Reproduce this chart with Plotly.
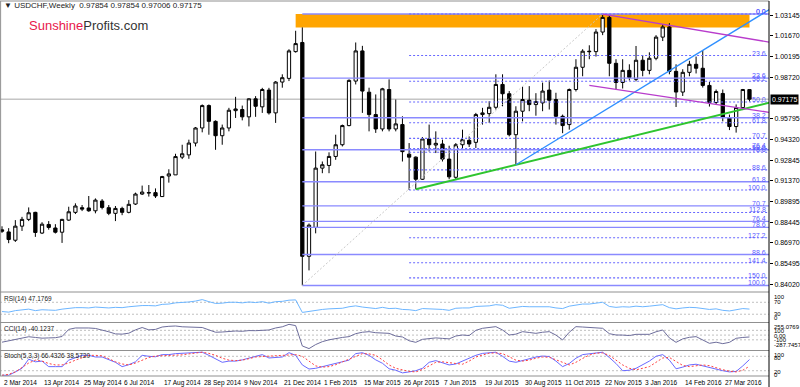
import plotly.graph_objects as go
import pandas as pd

# ---------------- data ----------------
start = pd.Timestamp("2014-03-02")
n_weeks = 113
dates = [start + pd.Timedelta(days=7 * i) for i in range(n_weeks)]

opens = [0.8790, 0.8775, 0.8716, 0.8816, 0.8864, 0.8914, 0.8767, 0.8828, 0.8803, 0.8773,
         0.8859, 0.8914, 0.8947, 0.8945, 0.8925, 0.8994, 0.8947, 0.8907, 0.8942, 0.8914,
         0.8973, 0.9044, 0.9051, 0.9054, 0.9026, 0.9172, 0.9180, 0.9306, 0.9322, 0.9406,
         0.9513, 0.9672, 0.9560, 0.9458, 0.9513, 0.9636, 0.9644, 0.9592, 0.9720, 0.9663,
         0.9782, 0.9620, 0.9839, 0.9865, 1.0055, 1.0120, 0.8602, 0.8807, 0.9228, 0.9247,
         0.9311, 0.9394, 0.9530, 0.9846, 1.0060, 0.9767, 0.9608, 0.9506, 0.9786, 0.9506,
         0.9537, 0.9327, 0.9306, 0.9149, 0.9435, 0.9392, 0.9399, 0.9292, 0.9163, 0.9394,
         0.9425, 0.9411, 0.9608, 0.9615, 0.9660, 0.9822, 0.9756, 0.9465, 0.9632, 0.9710,
         0.9679, 0.9691, 0.9782, 0.9715, 0.9596, 0.9537, 0.9786, 0.9944, 1.0058, 1.0055,
         1.0194, 1.0298, 0.9972, 0.9836, 0.9922, 0.9858, 0.9994, 0.9922, 1.0008, 1.0158,
         1.0230, 0.9915, 0.9768, 0.9908, 0.9965, 0.9937, 0.9815, 0.9694, 0.9758, 0.9587,
         0.9523, 0.9658, 0.97854]
highs = [0.8815, 0.8802, 0.8859, 0.8882, 0.8949, 0.8918, 0.8844, 0.8852, 0.8830, 0.8868,
         0.8954, 0.8978, 0.8966, 0.9030, 0.9013, 0.9008, 0.8966, 0.8959, 0.8954, 0.9001,
         0.9054, 0.9104, 0.9108, 0.9084, 0.9173, 0.9220, 0.9330, 0.9394, 0.9430, 0.9520,
         0.9680, 0.9680, 0.9567, 0.9537, 0.9656, 0.9734, 0.9672, 0.9724, 0.9739, 0.9798,
         0.9798, 0.9846, 0.9894, 1.0072, 1.0203, 1.0227, 0.8835, 0.9346, 0.9275, 0.9340,
         0.9465, 0.9537, 0.9858, 1.0120, 1.0096, 0.9799, 0.9751, 0.9798, 0.9858, 0.9715,
         0.9596, 0.9406, 0.9311, 0.9449, 0.9537, 0.9489, 0.9430, 0.9387, 0.9406, 0.9501,
         0.9453, 0.9620, 0.9656, 0.9703, 0.9894, 0.9894, 0.9775, 0.9667, 0.9810, 0.9810,
         0.9760, 0.9835, 0.9850, 0.9763, 0.9608, 0.9793, 1.0001, 1.0072, 1.0100, 1.0215,
         1.0322, 1.0315, 1.0001, 1.0001, 0.9965, 1.0095, 1.0030, 1.0050, 1.0172, 1.0250,
         1.0257, 0.9965, 0.9930, 0.9990, 1.0020, 1.0065, 0.9840, 0.9786, 0.9786, 0.9608,
         0.9680, 0.9790, 0.97854]
lows = [0.8768, 0.8695, 0.8704, 0.8782, 0.8852, 0.8740, 0.8760, 0.8791, 0.8764, 0.8697,
        0.8854, 0.8902, 0.8923, 0.8918, 0.8907, 0.8935, 0.8894, 0.8852, 0.8894, 0.8907,
        0.8966, 0.9037, 0.9026, 0.9016, 0.9023, 0.9125, 0.9180, 0.9292, 0.9294, 0.9382,
        0.9482, 0.9465, 0.9358, 0.9394, 0.9489, 0.9584, 0.9567, 0.9524, 0.9592, 0.9620,
        0.9608, 0.9549, 0.9799, 0.9846, 1.0048, 0.8395, 0.8502, 0.8765, 0.9192, 0.9192,
        0.9287, 0.9382, 0.9525, 0.9822, 0.9620, 0.9489, 0.9478, 0.9489, 0.9489, 0.9489,
        0.9275, 0.9073, 0.9078, 0.9144, 0.9346, 0.9335, 0.9275, 0.9149, 0.9144, 0.9363,
        0.9378, 0.9371, 0.9537, 0.9549, 0.9644, 0.9667, 0.9453, 0.9252, 0.9560, 0.9632,
        0.9600, 0.9632, 0.9644, 0.9537, 0.9476, 0.9501, 0.9772, 0.9880, 1.0001, 1.0020,
        1.0172, 0.9880, 0.9786, 0.9793, 0.9850, 0.9844, 0.9880, 0.9894, 0.9994, 1.0130,
        0.9894, 0.9662, 0.9740, 0.9880, 0.9900, 0.9800, 0.9665, 0.9679, 0.9560, 0.9498,
        0.9480, 0.9640, 0.97006]
closes = [0.8780, 0.8721, 0.8816, 0.8864, 0.8911, 0.8771, 0.8830, 0.8807, 0.8773, 0.8864,
          0.8918, 0.8959, 0.8937, 0.8925, 0.9001, 0.8949, 0.8907, 0.8942, 0.8914, 0.8971,
          0.9044, 0.9058, 0.9054, 0.9030, 0.9168, 0.9187, 0.9310, 0.9330, 0.9406, 0.9513,
          0.9672, 0.9560, 0.9458, 0.9513, 0.9639, 0.9648, 0.9592, 0.9720, 0.9667, 0.9786,
          0.9620, 0.9839, 0.9870, 1.0060, 1.0112, 0.8602, 0.8823, 0.9228, 0.9252, 0.9311,
          0.9394, 0.9530, 0.9851, 1.0060, 0.9775, 0.9608, 0.9506, 0.9791, 0.9506, 0.9542,
          0.9345, 0.9306, 0.9149, 0.9435, 0.9394, 0.9404, 0.9292, 0.9166, 0.9394, 0.9430,
          0.9399, 0.9608, 0.9620, 0.9660, 0.9822, 0.9756, 0.9465, 0.9632, 0.9715, 0.9679,
          0.9700, 0.9775, 0.9710, 0.9596, 0.9530, 0.9786, 0.9944, 1.0058, 1.0055, 1.0194,
          1.0298, 0.9972, 0.9836, 0.9922, 0.9872, 0.9994, 0.9922, 1.0008, 1.0158, 1.0230,
          0.9915, 0.9768, 0.9908, 0.9965, 0.9937, 0.9815, 0.9694, 0.9772, 0.9587, 0.9523,
          0.9658, 0.9786, 0.97175]

rsi = [39, 37, 42, 45, 47, 42, 45, 44, 43, 47, 50, 52, 52, 51, 54, 53, 51, 53, 52, 55,
       58, 59, 59, 58, 63, 64, 68, 69, 71, 74, 79, 72, 66, 67, 70, 70, 68, 71, 69, 72,
       67, 72, 73, 77, 78, 36, 40, 44, 46, 48, 49, 50, 55, 58, 54, 51, 49, 53, 49, 50,
       46, 45, 42, 49, 48, 49, 46, 43, 50, 51, 51, 56, 57, 58, 62, 60, 50, 54, 56, 55,
       55, 57, 55, 51, 49, 57, 61, 64, 64, 67, 70, 56, 53, 55, 54, 57, 55, 57, 60, 62,
       52, 48, 51, 53, 52, 49, 46, 48, 43, 41, 45, 49, 47.1769]
cci = [-150, -120, -90, -60, -35, -50, -65, -60, -55, -30, 120, 150, 157, 150, 140, 110, 70, 25, 20, 40,
       110, 160, 110, 120, 170, 185, 192, 175, 165, 160, 160, 110, 60, 65, 80, 86, 80, 95, 93, 100,
       108, 150, 175, 227, 200, -230, -285, -200, -139, -100, -68, -50, -33, 30, 60, 72, 50, 45, 37, -20,
       -40, -120, -153, -90, -68, -60, -70, -80, -20, 2, -10, 100, 143, 165, 178, 108, 2, 20, 72, 55,
       37, 60, 72, 0, -103, 60, 178, 170, 160, 157, 143, 30, 2, 0, -10, 16, 10, 16, 70, 108,
       -60, -153, -80, -47, -33, -100, -174, -150, -181, -153, -68, -50, -40.1237]
stoch_k = [1, 1, 15, 30, 68, 57, 60, 37, 37, 37, 64, 75, 84, 84, 77, 77, 65, 55, 37, 45,
           57, 84, 80, 78, 87, 87, 91, 92, 93, 95, 97, 84, 70, 55, 60, 60, 65, 73, 78, 87,
           73, 75, 77, 95, 84, 44, 27, 30, 37, 45, 51, 57, 64, 91, 95, 84, 65, 51, 28, 22,
           11, 15, 20, 30, 55, 62, 52, 44, 48, 60, 72, 84, 92, 96, 97, 80, 60, 55, 62, 72,
           77, 81, 79, 60, 37, 50, 72, 87, 91, 94, 97, 75, 50, 20, 22, 30, 45, 60, 80, 87,
           64, 28, 35, 44, 47, 40, 31, 24, 20, 15, 17, 40, 66.4326]
stoch_d = [1, 5, 15, 35, 52, 64, 60, 50, 44, 44, 52, 64, 75, 84, 84, 82, 70, 57, 48, 44,
           52, 64, 75, 81, 82, 84, 85, 86, 90, 94, 97, 92, 84, 72, 64, 62, 64, 70, 77, 79,
           80, 82, 84, 86, 87, 80, 60, 40, 35, 37, 45, 57, 70, 80, 91, 90, 84, 65, 44, 30,
           24, 17, 15, 25, 40, 55, 57, 55, 50, 47, 60, 77, 86, 93, 94, 91, 78, 64, 60, 64,
           72, 77, 76, 64, 55, 44, 55, 71, 85, 93, 94, 84, 64, 44, 30, 24, 30, 37, 55, 73,
           75, 60, 42, 37, 42, 44, 41, 32, 24, 18, 15, 22, 38.5720]

price_ticks = [1.03145, 1.01670, 1.00195, 0.98720, 0.95795, 0.94320, 0.92845,
               0.91370, 0.89895, 0.88445, 0.86970, 0.85495, 0.84020]
last_price = 0.97175

# Fibonacci retracements (anchor weeks, prices) and levels
fibA_anchor = (45, 0.8395, 90, 1.0322)
fibA_levels = [0.0, 23.6, 38.2, 50.0, 61.8, 70.7, 76.4, 78.6, 88.6, 100.0]
fibB_anchor = (61, 0.9073, 90, 1.0322)
fibB_levels = [0.0, 23.6, 38.2, 50.0, 61.8, 70.7, 76.4, 78.6, 88.6, 100.0, 112.8, 127.2, 141.4, 150.0]

# trend lines: (week0, price0, week1, price1)
green_line = (62, 0.9078, 77, 0.9252)
blue_line = (77, 0.9252, 84, 0.9455)
magenta_top = (90, 1.0322, 100, 1.0242)
magenta_bottom = (88, 0.9815, 112, 0.9645)
resistance_zone = (44, 1.0226, 112, 1.0322)

# ---------------- layout helpers ----------------
W, H = 800, 387
PB = 376  # bottom of plotting area (px)


def dom(top_px, bot_px):
    return [(PB - bot_px) / PB, (PB - top_px) / PB]


def ypaper(px):
    return (PB - px) / PB


def wk(i):
    return start + pd.Timedelta(days=7 * i)


X_LEFT = wk(-0.2985)
X_RIGHT = wk(114.925)
FONT = "Liberation Sans, Arial, sans-serif"
FIBC = "#5a5aff"

fig = go.Figure()

# orange resistance zone
zi0, zp0, zi1, zp1 = resistance_zone
fig.add_shape(type="rect", xref="x", yref="y", x0=wk(zi0), x1=wk(zi1), y0=zp0, y1=zp1,
              fillcolor="#ffa500", line_width=0, layer="below")

# current price line
fig.add_shape(type="line", xref="paper", yref="y", x0=0, x1=1, y0=last_price, y1=last_price,
              line=dict(color="#a8a8a8", width=1), layer="below")


def add_fib(anchor, levels, dash, width, color):
    i0, lo, i1, hi = anchor
    for lv in levels:
        p = hi - lv / 100.0 * (hi - lo)
        fig.add_trace(go.Scatter(x=[wk(i0), wk(118)], y=[p, p], mode="lines",
                                 line=dict(color=color, width=width, dash=dash),
                                 hoverinfo="skip", showlegend=False, xaxis="x", yaxis="y"))
        fig.add_annotation(xref="paper", yref="y", x=1, y=p, text=("%.1f" % lv),
                           xanchor="right", yanchor="bottom", xshift=-1, yshift=-3,
                           showarrow=False, font=dict(family=FONT, size=7, color=FIBC))


add_fib(fibA_anchor, fibA_levels, "solid", 1.4, "#8a8aff")
add_fib(fibB_anchor, fibB_levels, "2px,2px", 1.1, "#6868ff")

# fib A diagonal
fi0, flo, fi1, fhi = fibA_anchor
fig.add_trace(go.Scatter(x=[wk(fi0), wk(fi1)], y=[flo, fhi], mode="lines",
                         line=dict(color="#c8c8c8", width=1, dash="2px,2px"),
                         hoverinfo="skip", showlegend=False))


def add_ray(seg, color, width, end=118):
    i0, p0, i1, p1 = seg
    slope = (p1 - p0) / (i1 - i0)
    fig.add_trace(go.Scatter(x=[wk(i0), wk(end)], y=[p0, p0 + slope * (end - i0)], mode="lines",
                             line=dict(color=color, width=width),
                             hoverinfo="skip", showlegend=False))


# candles
fig.add_trace(go.Candlestick(x=dates, open=opens, high=highs, low=lows, close=closes,
                             increasing=dict(line=dict(color="#000000", width=1), fillcolor="#ffffff"),
                             decreasing=dict(line=dict(color="#000000", width=1), fillcolor="#000000"),
                             whiskerwidth=0, showlegend=False, hoverinfo="skip",
                             xaxis="x", yaxis="y"))

add_ray(green_line, "#2fc52f", 2)
add_ray(blue_line, "#2f8fff", 1.3)
add_ray(magenta_top, "#b83ccc", 1.3)
add_ray(magenta_bottom, "#b83ccc", 1.3)

# indicators
fig.add_trace(go.Scatter(x=dates, y=rsi, mode="lines", line=dict(color="#6db6ff", width=1),
                         hoverinfo="skip", showlegend=False, xaxis="x2", yaxis="y2"))
fig.add_trace(go.Scatter(x=dates, y=cci, mode="lines", line=dict(color="#6e6e9c", width=1),
                         hoverinfo="skip", showlegend=False, xaxis="x3", yaxis="y3"))
fig.add_trace(go.Scatter(x=dates, y=stoch_k, mode="lines", line=dict(color="#6a6aff", width=1),
                         hoverinfo="skip", showlegend=False, xaxis="x4", yaxis="y4"))
fig.add_trace(go.Scatter(x=dates, y=stoch_d, mode="lines", line=dict(color="#ff4040", width=1, dash="2px,2px"),
                         hoverinfo="skip", showlegend=False, xaxis="x4", yaxis="y4"))

# level lines in indicator panes
for yax, lv in [("y2", 70), ("y2", 30), ("y3", 100), ("y3", 0), ("y3", -100), ("y4", 80), ("y4", 20)]:
    fig.add_shape(type="line", xref="paper", yref=yax, x0=0, x1=1, y0=lv, y1=lv,
                  line=dict(color="#c0c0c0", width=1, dash="2px,2px"), layer="below")

# pane frames
for px in [1, 292, 322.5, 350.5, 376]:
    fig.add_shape(type="line", xref="paper", yref="paper", x0=0, x1=1, y0=ypaper(px), y1=ypaper(px),
                  line=dict(color="#909090", width=1))
fig.add_shape(type="line", xref="paper", yref="paper", x0=0.0008, x1=0.0008, y0=0, y1=ypaper(1),
              line=dict(color="#909090", width=1))
fig.add_shape(type="line", xref="paper", yref="paper", x0=1, x1=1, y0=ypaper(390), y1=ypaper(1),
              line=dict(color="#000000", width=1))

ax_common = dict(range=[X_LEFT, X_RIGHT], showgrid=False, zeroline=False, showticklabels=False,
                 showline=False, ticks="", type="date")
fig.update_layout(
    width=W, height=H, margin=dict(l=0, r=28, t=0, b=11),
    paper_bgcolor="white", plot_bgcolor="white",
    xaxis=dict(ax_common, anchor="y", rangeslider=dict(visible=False)),
    xaxis2=dict(ax_common, anchor="y2", matches="x"),
    xaxis3=dict(ax_common, anchor="y3", matches="x"),
    xaxis4=dict(ax_common, anchor="y4", matches="x"),
    yaxis=dict(domain=dom(1, 291.5), range=[0.83521, 1.04144], side="right", showgrid=False,
               zeroline=False, tickvals=price_ticks, ticktext=["%.5f" % v for v in price_ticks],
               ticks="outside", ticklen=3, tickcolor="#000", tickfont=dict(family=FONT, size=7, color="#000")),
    yaxis2=dict(domain=dom(293, 322), range=[4, 101], showgrid=False, zeroline=False,
                showticklabels=False, side="right"),
    yaxis3=dict(domain=dom(323, 350), range=[-315, 255.08], showgrid=False, zeroline=False,
                showticklabels=False, side="right"),
    yaxis4=dict(domain=dom(351, 376), range=[-2, 102], showgrid=False, zeroline=False,
                showticklabels=False, side="right"),
    showlegend=False,
)

# current price tag
fig.add_annotation(xref="paper", yref="y", x=1, y=last_price, text="0.97175", xanchor="left",
                   xshift=1, showarrow=False, bgcolor="#000000", borderpad=1,
                   font=dict(family=FONT, size=7, color="#ffffff"))

# texts
small = dict(family=FONT, size=6.5, color="#222222")
fig.add_annotation(xref="paper", yref="paper", x=0.002, y=ypaper(6), xanchor="left", yanchor="middle",
                   text="▼ USDCHF,Weekly  0.97854 0.97854 0.97006 0.97175", showarrow=False,
                   font=dict(family=FONT, size=8, color="#222222"))
fig.add_annotation(xref="paper", yref="paper", x=27 / 772, y=ypaper(25), xanchor="left", yanchor="middle",
                   text="<span style='color:#e8174a'>Sunshine</span><span style='color:#333333'>Profits.com</span>",
                   showarrow=False, font=dict(family=FONT, size=13))
for txt, py in [("RSI(14) 47.1769", 298.5), ("CCI(14) -40.1237", 328.5), ("Stoch(5,3,3) 66.4326 38.5720", 356)]:
    fig.add_annotation(xref="paper", yref="paper", x=0.003, y=ypaper(py), xanchor="left", yanchor="middle",
                       text=txt, showarrow=False, font=small)

right_labels = [("100", 297.3), ("70", 302.3), ("30", 314), ("0", 318.3),
                ("255.0769", 326.7), ("100", 330.7), ("0.00", 335.7), ("-100", 340), ("-287.7457", 345),
                ("100", 355), ("80", 358), ("20", 371.5), ("0", 374.5)]
for txt, py in right_labels:
    fig.add_annotation(xref="paper", yref="paper", x=1, y=ypaper(py), xanchor="left", yanchor="middle",
                       xshift=3, text=txt, showarrow=False, font=dict(family=FONT, size=6, color="#000"))

# date labels
for i in range(0, n_weeks, 6):
    d = dates[i]
    fig.add_annotation(xref="x4", yref="paper", x=d, y=ypaper(377), xanchor="left", yanchor="top",
                       text=f"{d.day} {d.strftime('%b %Y')}", showarrow=False,
                       font=dict(family=FONT, size=6.5, color="#000"))

fig.write_html("out.html")
